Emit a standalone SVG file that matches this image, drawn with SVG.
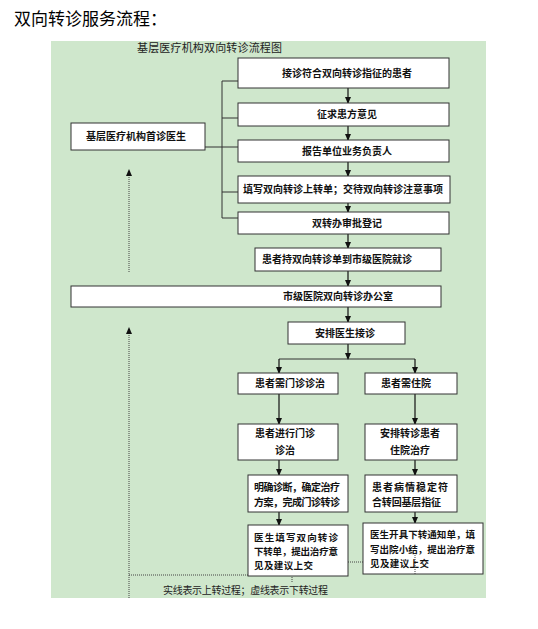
<svg xmlns="http://www.w3.org/2000/svg" width="538" height="629" viewBox="0 0 538 629">
<style>
.bg{fill:#cfe7cc}
.box{fill:#fff;stroke:#333;stroke-width:1}
.t{font-family:"Noto Sans CJK SC","Liberation Sans",sans-serif;font-size:10px;font-weight:bold;fill:#111}
.s{font-size:9.5px}
.c{text-anchor:middle}
.ln{stroke:#333;stroke-width:1;fill:none}
.ar{stroke:#111;stroke-width:1.2;fill:none;marker-end:url(#ah)}
.dot{stroke:#444;stroke-width:1;stroke-dasharray:1,1;fill:none}
.dar{stroke:#444;stroke-width:1;stroke-dasharray:1,1;fill:none;marker-end:url(#ah)}
.note{font-family:"Noto Sans CJK SC","Liberation Sans",sans-serif;font-size:10px;fill:#222}
</style>
<defs>
<marker id="ah" markerUnits="userSpaceOnUse" markerWidth="7" markerHeight="6" refX="6" refY="3" orient="auto">
<path d="M0,0 L7,3 L0,6 z" fill="#111"/>
</marker>
</defs>
<rect width="538" height="629" fill="#fff"/>
<text x="14" y="25" font-family="Noto Sans CJK SC,Liberation Sans,sans-serif" font-size="17" fill="#000">双向转诊服务流程：</text>
<rect class="bg" x="51" y="41" width="435" height="557"/>
<text x="137" y="52" font-family="Noto Sans CJK SC,Liberation Sans,sans-serif" font-size="11" fill="#222" textLength="145">基层医疗机构双向转诊流程图</text>

<g id="connectors">
<path class="ln" d="M222,81 V218 M222,81 H238 M222,118 H238 M205,147 H238 M222,192 H238 M222,218 H238"/>
<path class="ar" d="M348,88 V103"/>
<path class="ar" d="M348,126 V140"/>
<path class="ar" d="M348,162 V176"/>
<path class="ar" d="M348,203 V212"/>
<path class="ar" d="M348,234 V248"/>
<path class="ar" d="M348,271 V286"/>
<path class="ar" d="M348,307 V322"/>
<path class="ar" d="M348,344 V359"/>
<path class="ln" d="M279,359 H415" stroke-width="1.6"/>
<path class="ar" d="M279,359 V373"/>
<path class="ar" d="M415,359 V373"/>
<path class="ar" d="M279,394 V424"/>
<path class="ar" d="M415,394 V424"/>
<path class="ar" d="M279,460 V475"/>
<path class="ar" d="M415,460 V475"/>
<path class="ar" d="M279,512 V525"/>
<path class="ar" d="M415,512 V523"/>
<path class="dar" d="M129,272 V170"/>
<path class="dar" d="M129,598 V328"/>
<path class="dot" d="M129,575 H348 M292,575 V583 M348,562 H363"/>
</g>

<g id="n1"><rect class="box" x="238" y="58" width="211" height="30"/><text class="t c" x="347" y="77">接诊符合双向转诊指征的患者</text></g>
<g id="n2"><rect class="box" x="238" y="103" width="211" height="23"/><text class="t c" x="347" y="118">征求患方意见</text></g>
<g id="n3"><rect class="box" x="238" y="140" width="211" height="22"/><text class="t c" x="347" y="155">报告单位业务负责人</text></g>
<g id="n4"><rect class="box" x="238" y="176" width="212" height="27"/><text class="t c" x="343" y="193">填写双向转诊上转单；交待双向转诊注意事项</text></g>
<g id="n5"><rect class="box" x="238" y="212" width="211" height="22"/><text class="t c" x="347" y="227">双转办审批登记</text></g>
<g id="n0"><rect class="box" x="71" y="123" width="134" height="27"/><text class="t c" x="136" y="140">基层医疗机构首诊医生</text></g>
<g id="n6"><rect class="box" x="255" y="248" width="186" height="23"/><text class="t" x="262" y="263">患者持双向转诊单到市级医院就诊</text></g>
<g id="n7"><rect class="box" x="71" y="286" width="370" height="21"/><text class="t c" x="338" y="300">市级医院双向转诊办公室</text></g>
<g id="n8"><rect class="box" x="288" y="322" width="117" height="22"/><text class="t c" x="345" y="337">安排医生接诊</text></g>
<g id="n9"><rect class="box" x="238" y="373" width="100" height="21"/><text class="t c" x="290" y="387">患者需门诊诊治</text></g>
<g id="n10"><rect class="box" x="365" y="373" width="92" height="21"/><text class="t c" x="406" y="387">患者需住院</text></g>
<g id="n11"><rect class="box" x="238" y="424" width="100" height="36"/><text class="t c" x="285" y="437">患者进行门诊</text><text class="t c" x="285" y="454">诊治</text></g>
<g id="n12"><rect class="box" x="365" y="424" width="92" height="36"/><text class="t c" x="410" y="437">安排转诊患者</text><text class="t c" x="410" y="454">住院治疗</text></g>
<g id="n13"><rect class="box" x="248" y="475" width="100" height="37"/><text class="t" x="254" y="491" textLength="86">明确诊断，确定治疗</text><text class="t" x="254" y="506" textLength="86">方案，完成门诊转诊</text></g>
<g id="n14"><rect class="box" x="365" y="475" width="92" height="37"/><text class="t" x="372" y="491" textLength="76">患者病情稳定符</text><text class="t" x="372" y="506" textLength="69">合转回基层指征</text></g>
<g id="n15"><rect class="box" x="248" y="525" width="100" height="51"/><text class="t s" x="254" y="541" textLength="84">医生填写双向转诊</text><text class="t s" x="254" y="555" textLength="84">下转单，提出治疗意</text><text class="t s" x="254" y="569" textLength="59">见及建议上交</text></g>
<g id="n16"><rect class="box" x="363" y="523" width="120" height="51"/><text class="t s" x="370" y="538" textLength="105">医生开具下转通知单，填</text><text class="t s" x="370" y="553" textLength="105">写出院小结，提出治疗意</text><text class="t s" x="370" y="567" textLength="59">见及建议上交</text></g>
<path class="dot" d="M415,553 V575"/>
<text class="note" x="163" y="594" textLength="165">实线表示上转过程；虚线表示下转过程</text>
</svg>
